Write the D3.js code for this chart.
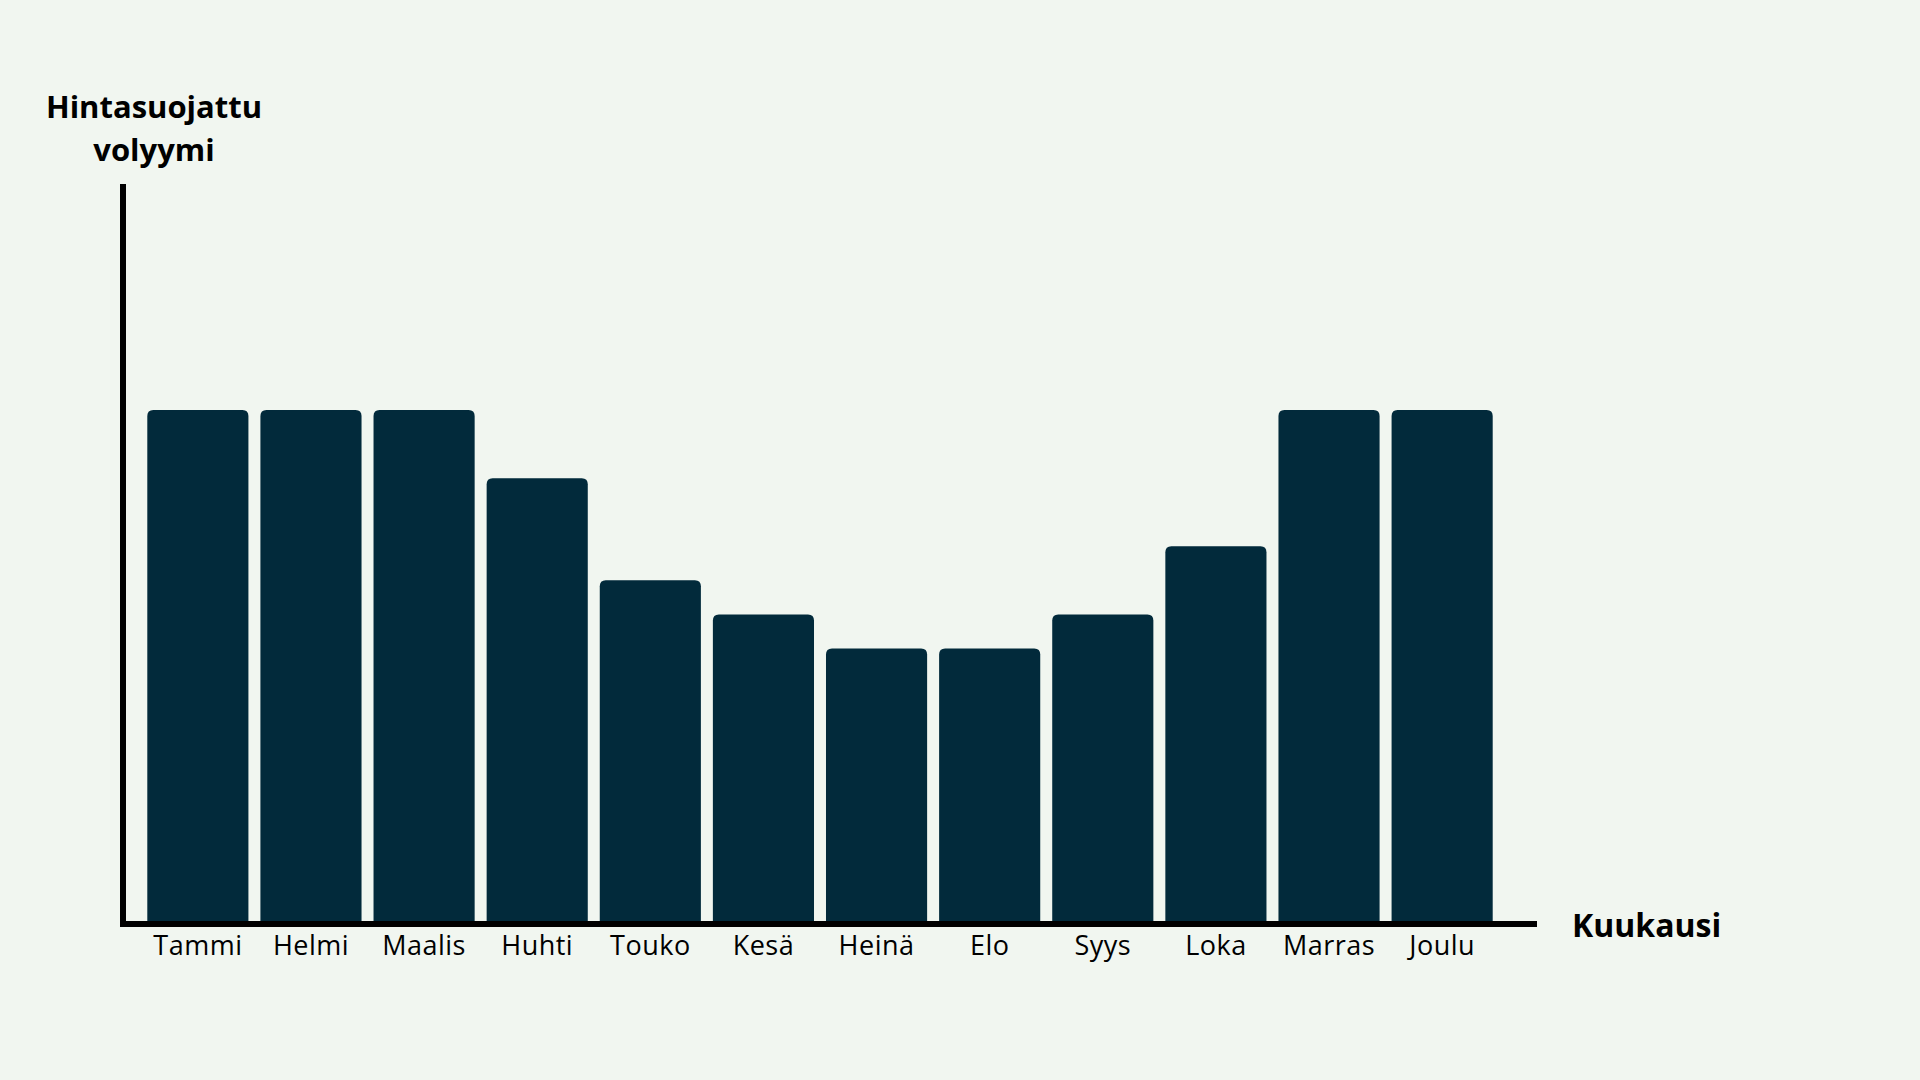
<!DOCTYPE html>
<html>
<head>
<meta charset="utf-8">
<script src="https://cdn.jsdelivr.net/npm/d3@7"></script>
<style>
  html, body { margin: 0; padding: 0; background: #f1f6f0; }
  svg { display: block; }
  text { font-family: "Open Sans", "Noto Sans", sans-serif; fill: #000; }
</style>
</head>
<body>
<svg id="chart" width="1920" height="1080"></svg>
<script>
const months = ["Tammi","Helmi","Maalis","Huhti","Touko","Kesä","Heinä","Elo","Syys","Loka","Marras","Joulu"];
const volumes = [15, 15, 15, 13, 10, 9, 8, 8, 9, 11, 15, 15];
const yTitleLines = ["Hintasuojattu", "volyymi"];
const xTitle = "Kuukausi";

const svg = d3.select("#chart");
svg.append("rect").attr("width", 1920).attr("height", 1080).attr("fill", "#f1f6f0");

const x = d3.scaleBand().domain(months).range([141.3, 1498.7]).paddingInner(0.106).paddingOuter(0.053);
const y = d3.scaleLinear().domain([0, 15]).range([921, 410]);

const r = 6;
function barPath(x0, w, top, bottom) {
  return `M${x0},${bottom} L${x0},${top + r} Q${x0},${top} ${x0 + r},${top} L${x0 + w - r},${top} Q${x0 + w},${top} ${x0 + w},${top + r} L${x0 + w},${bottom} Z`;
}

svg.append("g").selectAll("path")
  .data(months.map((m, i) => ({ m, v: volumes[i] })))
  .join("path")
  .attr("d", d => barPath(x(d.m), x.bandwidth(), y(d.v), y(0)))
  .attr("fill", "#022a3b");

// axes lines
svg.append("line").attr("x1", 123).attr("x2", 123).attr("y1", 184).attr("y2", 927)
  .attr("stroke", "#000").attr("stroke-width", 6);
svg.append("line").attr("x1", 120).attr("x2", 1537).attr("y1", 924).attr("y2", 924)
  .attr("stroke", "#000").attr("stroke-width", 6);

// x tick labels via axis
const xAxis = d3.axisBottom(x).tickSize(0).tickPadding(0);
const gx = svg.append("g").attr("transform", "translate(0,930)").call(xAxis);
gx.select(".domain").remove();
gx.selectAll("text")
  .attr("dy", null).attr("y", 25)
  .attr("font-size", 27).attr("font-family", "\"Open Sans\", sans-serif")
  .attr("letter-spacing", 0.5)
  .attr("fill", "#000");

// y axis title
svg.append("g").selectAll("text").data(yTitleLines).join("text")
  .attr("x", 154).attr("y", (d, i) => 118 + i * 43)
  .attr("text-anchor", "middle").attr("font-size", 31).attr("font-weight", 700)
  .text(d => d);

// x axis title
svg.append("text").attr("x", 1572).attr("y", 937)
  .attr("font-size", 32).attr("font-weight", 700)
  .text(xTitle);
</script>
</body>
</html>
